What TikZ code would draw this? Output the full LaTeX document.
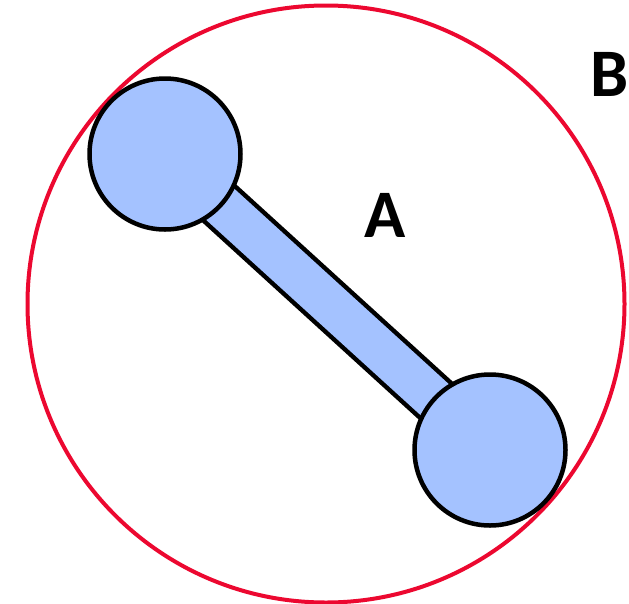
\documentclass[tikz,border=0pt]{standalone}
\usepackage{fontspec}
\setsansfont{Carlito}
\definecolor{ballblue}{RGB}{164,194,255}
\definecolor{ringred}{RGB}{236,8,48}
\tikzset{
  ball/.style={circle,draw=black,line width=4.5pt,fill=ballblue,minimum size=151pt,inner sep=0pt},
  ring/.style={circle,draw=ringred,line width=4pt,minimum size=597pt,inner sep=0pt},
  rod/.style={draw=black,line width=4.5pt,double=ballblue,double distance=42pt},
  lbl/.style={font=\sffamily\bfseries\fontsize{68}{68}\selectfont,inner sep=0pt}
}
\begin{document}
\begin{tikzpicture}[x=1pt,y=-1pt]
  \useasboundingbox (0,0) rectangle (629,603);
  \node[ring] (shell) at (326,304) {};
  \coordinate (p1) at (165,154);
  \coordinate (p2) at (490,450);
  % rod first, then the two balls on top
  \draw[rod] (p1) -- (p2);
  \node[ball] (end1) at (p1) {};
  \node[ball] (end2) at (p2) {};
  \node[lbl] (labA) at (385,215) {A};
  \node[lbl] (labB) at (610,74) {B};
\end{tikzpicture}
\end{document}
